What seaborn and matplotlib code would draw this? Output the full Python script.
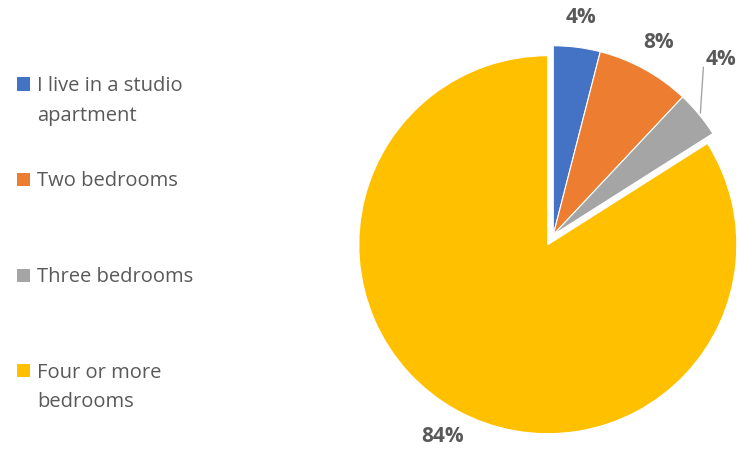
import numpy as np
import seaborn as sns
import matplotlib.pyplot as plt
from matplotlib.patches import Rectangle

categories = ['I live in a studio\napartment', 'Two bedrooms', 'Three bedrooms', 'Four or more\nbedrooms']
shares = [4, 8, 4, 84]
colors = ['#4472C4', '#ED7D31', '#A5A5A5', '#FFC000']

sns.set_theme(style='white')
plt.rcParams['font.family'] = ['Open Sans', 'DejaVu Sans']
txt = '#595959'

fig = plt.figure(figsize=(7.39, 4.49), dpi=100)
ax = fig.add_axes([0.429, -0.049, 0.6394, 1.0523])

explode = [0, 0, 0, 0.06]
palette = sns.color_palette(colors)
wedges, pcts = ax.pie(shares, colors=palette, startangle=90, counterclock=False,
                      explode=explode, autopct='%d%%', pctdistance=1.16,
                      wedgeprops=dict(edgecolor='white', linewidth=0.8),
                      textprops=dict(color=txt, fontsize=15, fontweight='bold'))[0::2]
ax.set_xlim(-1.25, 1.25)
ax.set_ylim(-1.25, 1.25)
ax.set_aspect('equal')
ax.axis('off')

# third label sits above the slice with a leader line
w = wedges[2]
mid = np.deg2rad((w.theta1 + w.theta2) / 2)
x0, y0 = np.cos(mid) * 1.01, np.sin(mid) * 1.01
x1, y1 = x0 + 0.016, y0 + 0.243
ax.plot([x0, x1], [y0, y1], color='#A5A5A5', lw=1)
pcts[2].set_position((x1 + 0.01, y1 + 0.04))
pcts[2].set_ha('left')

# legend like excel: evenly spaced entries, key square next to first line
W, H = fig.get_size_inches() * fig.dpi
top, step = 84, 95.5
for i, (lab, c) in enumerate(zip(categories, palette)):
    yc = top + i * step
    fig.patches.append(Rectangle((17 / W, 1 - (yc + 6.5) / H), 13 / W, 13 / H,
                                 facecolor=c, edgecolor='none', transform=fig.transFigure))
    fig.text(37 / W, 1 - (yc - 8) / H, lab, ha='left', va='top', fontsize=14.5,
             color=txt, linespacing=1.65)

plt.savefig('out.png', dpi=100)
